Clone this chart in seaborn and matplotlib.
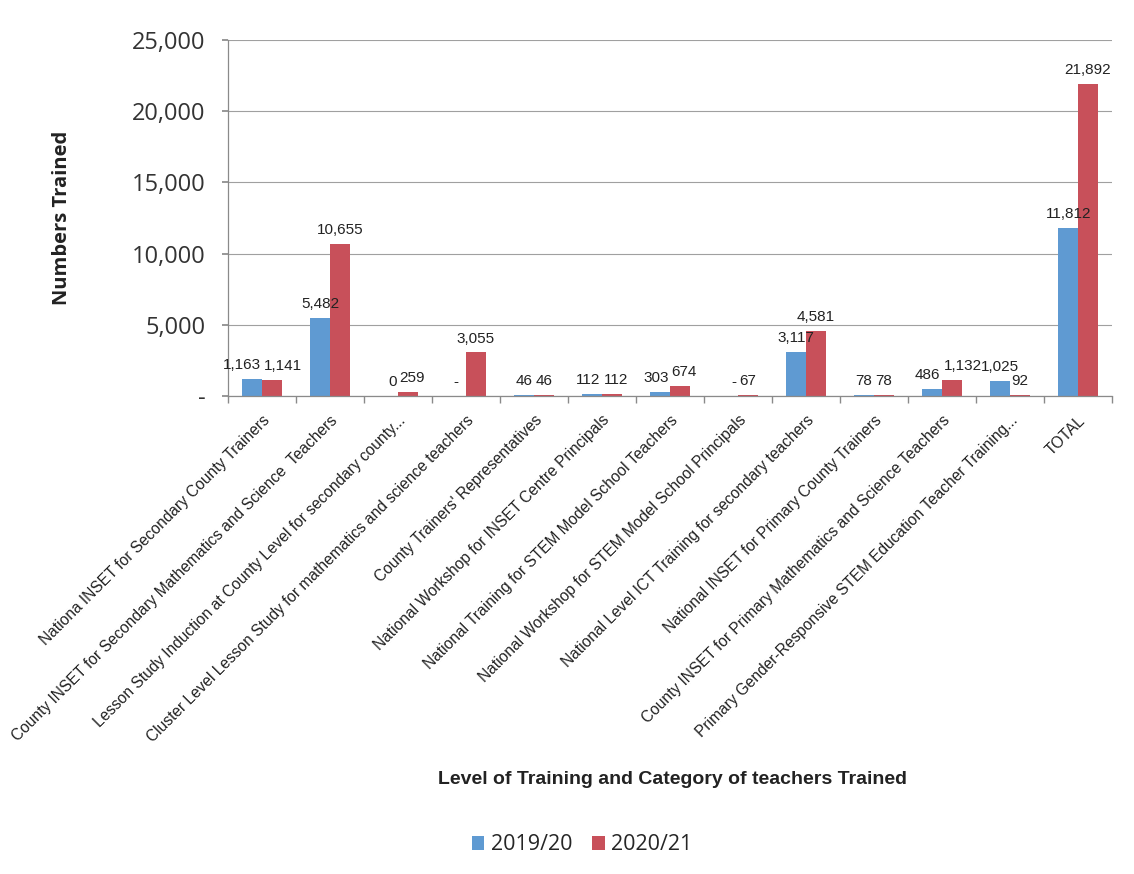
import matplotlib
matplotlib.use("Agg")
import matplotlib.pyplot as plt
import seaborn as sns
import pandas as pd
import numpy as np
from matplotlib.ticker import FixedLocator, FuncFormatter
from matplotlib.patches import Patch

categories = [
    "Nationa INSET for Secondary County Trainers",
    "County INSET for Secondary Mathematics and Science  Teachers",
    "Lesson Study Induction at County Level for secondary county...",
    "Cluster Level Lesson Study for mathematics and science teachers",
    "County Trainers' Representatives",
    "National Workshop for INSET Centre Principals",
    "National Training for STEM Model School Teachers",
    "National Workshop for STEM Model School Principals",
    "National Level ICT Training for secondary teachers",
    "National INSET for Primary County Trainers",
    "County INSET for Primary Mathematics and Science Teachers",
    "Primary Gender-Responsive STEM Education Teacher Training...",
    "TOTAL",
]
series_names = ["2019/20", "2020/21"]
values_1920 = [1163, 5482, 0, 0, 46, 112, 303, 0, 3117, 78, 486, 1025, 11812]
values_2021 = [1141, 10655, 259, 3055, 46, 112, 674, 67, 4581, 78, 1132, 92, 21892]
labels_1920 = ["1,163", "5,482", "0", "-", "46", "112", "303", "-", "3,117", "78", "486", "1,025", "11,812"]
labels_2021 = ["1,141", "10,655", "259", "3,055", "46", "112", "674", "67", "4,581", "78", "1,132", "92", "21,892"]
y_ticks = [0, 5000, 10000, 15000, 20000, 25000]

colors = ["#5F9AD2", "#C8505A"]

df = pd.DataFrame({
    "category": categories * 2,
    "series": [series_names[0]] * len(categories) + [series_names[1]] * len(categories),
    "value": values_1920 + values_2021,
})

sns.set_theme(style="white")
plt.rcParams["font.family"] = ["Liberation Sans", "DejaVu Sans"]

fig = plt.figure(figsize=(11.34, 8.74), dpi=100)
ax = fig.add_axes([228 / 1134, 1 - 396 / 874, (1112 - 228) / 1134, (396 - 40) / 874])

sns.barplot(data=df, x="category", y="value", hue="series", order=categories,
            hue_order=series_names, palette=colors, width=0.58, ax=ax,
            saturation=1, legend=False, edgecolor="none")

ax.set_ylim(0, 25000)
ax.set_xlim(-0.5, len(categories) - 0.5)

# data labels
blue_bars, red_bars = ax.containers[0], ax.containers[1]
lab_kw = dict(textcoords="offset points", fontsize=11, color="#222222", va="bottom")
for b1, b2, l1, l2 in zip(blue_bars, red_bars, labels_1920, labels_2021):
    h1, h2 = b1.get_height(), b2.get_height()
    if abs(h1 - h2) < 700:
        ax.annotate(l1, xy=(b1.get_x() + b1.get_width(), h1), xytext=(-1, 5), ha="right", **lab_kw)
        ax.annotate(l2, xy=(b2.get_x(), h2), xytext=(1, 5), ha="left", **lab_kw)
    else:
        ax.annotate(l1, xy=(b1.get_x() + b1.get_width() / 2, h1), xytext=(0, 5), ha="center", **lab_kw)
        ax.annotate(l2, xy=(b2.get_x() + b2.get_width() / 2, h2), xytext=(0, 5), ha="center", **lab_kw)

ax.yaxis.set_major_locator(FixedLocator(y_ticks))
ax.yaxis.set_major_formatter(FuncFormatter(lambda v, p: "-" if v == 0 else f"{int(v):,}"))
ax.grid(axis="y", color="#a0a0a0", linewidth=0.8)
ax.set_axisbelow(True)

for s in ["top", "right"]:
    ax.spines[s].set_visible(False)
for s in ["left", "bottom"]:
    ax.spines[s].set_visible(True)
    ax.spines[s].set_color("#8a8a8a")
    ax.spines[s].set_linewidth(0.9)

ax.tick_params(axis="y", which="major", length=4, color="#8a8a8a", left=True,
               labelsize=17, pad=12)
for t in ax.get_yticklabels():
    t.set_family(["Open Sans", "DejaVu Sans"])
    t.set_color("#333333")

ax.set_xticks(range(len(categories)))
ax.set_xticklabels(categories, rotation=45, ha="right", rotation_mode="anchor",
                   fontsize=11.2, color="#222222")
ax.tick_params(axis="x", which="major", length=0, pad=12)
ax.set_xticks(np.arange(-0.5, len(categories), 1.0), minor=True)
ax.tick_params(axis="x", which="minor", length=5, color="#8a8a8a", bottom=True)

ax.set_xlabel("")
ax.set_ylabel("Numbers Trained", fontsize=14.5, fontweight="bold",
              family=["Open Sans", "DejaVu Sans"], color="#222222")
ax.yaxis.set_label_coords((72 - 228) / 884, 0.5)

fig.text(672 / 1134, 1 - 780 / 874, "Level of Training and Category of teachers Trained",
         ha="center", va="center", fontsize=14, fontweight="bold", color="#222222")

handles = [Patch(facecolor=c, edgecolor="none") for c in colors]
fig.legend(handles, series_names, loc="center", bbox_to_anchor=(582 / 1134, 1 - 845 / 874),
           ncol=2, frameon=False, handlelength=0.6, handleheight=0.6, handletextpad=0.3,
           columnspacing=0.9, prop={"family": ["Open Sans", "DejaVu Sans"], "size": 15.5})

fig.savefig("out.png", dpi=100)
